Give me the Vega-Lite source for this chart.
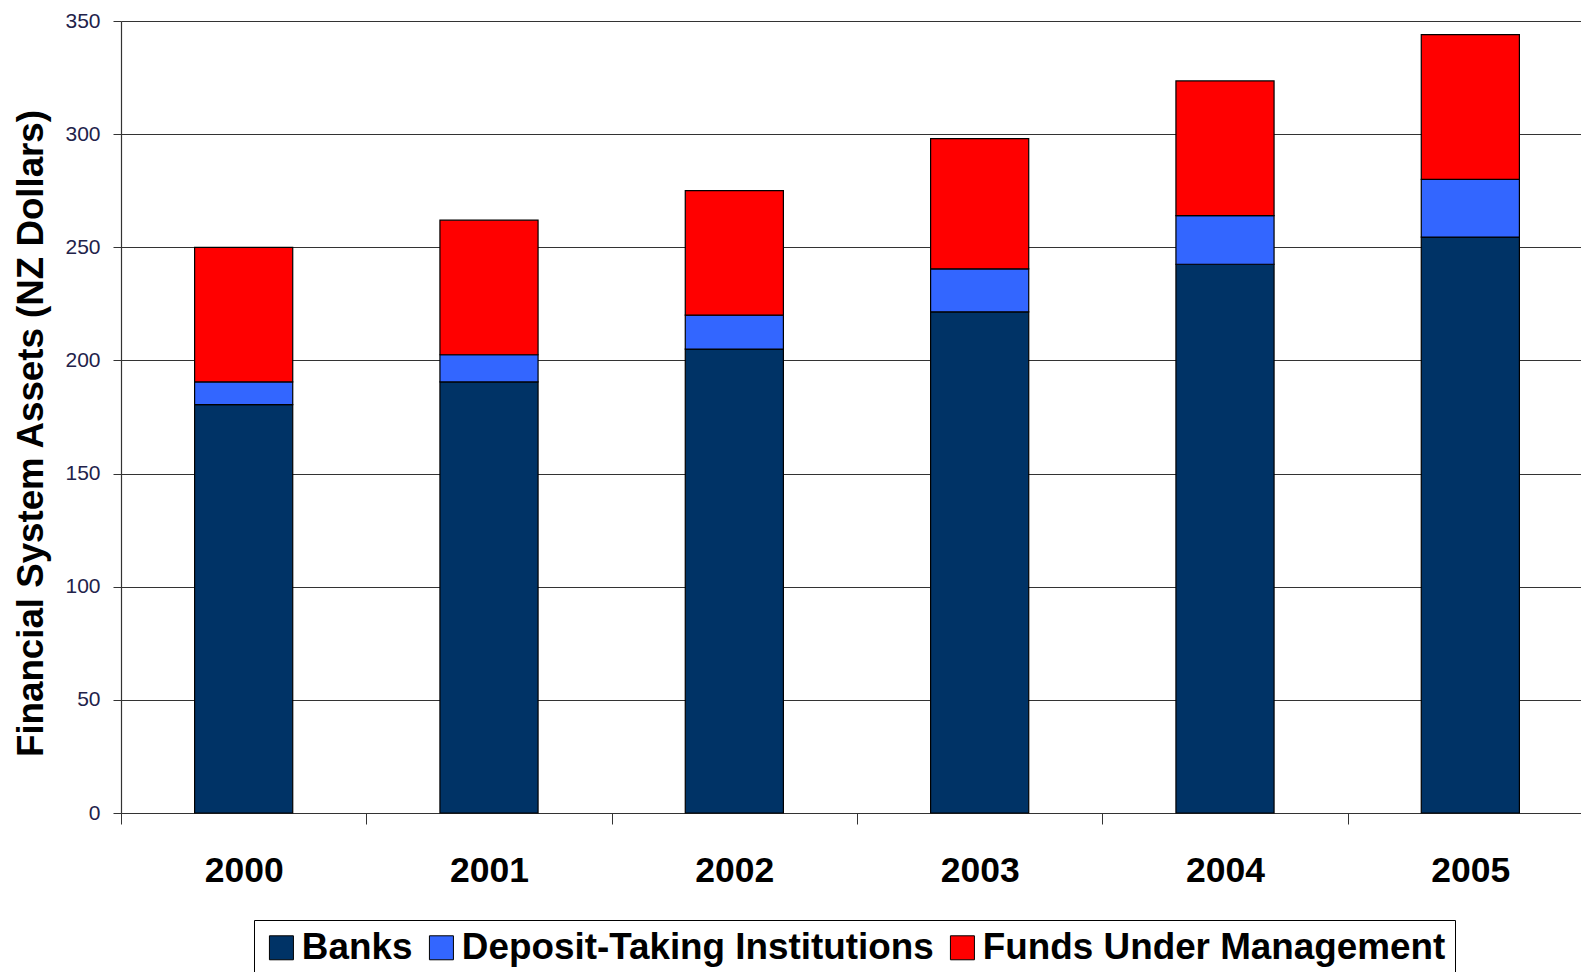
{
  "$schema": "https://vega.github.io/schema/vega-lite/v6.json",
  "width": 1472,
  "height": 792,
  "autosize": {"type": "none"},
  "padding": {"left": 121, "top": 21, "right": -12, "bottom": 159},
  "background": "white",
  "config": {"view": {"stroke": null}, "font": "Liberation Sans"},
  "data": {
    "values": [
      {"year": "2000", "category": "Banks", "value": 180.5},
      {"year": "2000", "category": "Deposit-Taking Institutions", "value": 10},
      {"year": "2000", "category": "Funds Under Management", "value": 59.5},
      {"year": "2001", "category": "Banks", "value": 190.5},
      {"year": "2001", "category": "Deposit-Taking Institutions", "value": 12},
      {"year": "2001", "category": "Funds Under Management", "value": 59.5},
      {"year": "2002", "category": "Banks", "value": 205},
      {"year": "2002", "category": "Deposit-Taking Institutions", "value": 15},
      {"year": "2002", "category": "Funds Under Management", "value": 55},
      {"year": "2003", "category": "Banks", "value": 221.5},
      {"year": "2003", "category": "Deposit-Taking Institutions", "value": 19},
      {"year": "2003", "category": "Funds Under Management", "value": 57.5},
      {"year": "2004", "category": "Banks", "value": 242.5},
      {"year": "2004", "category": "Deposit-Taking Institutions", "value": 21.5},
      {"year": "2004", "category": "Funds Under Management", "value": 59.5},
      {"year": "2005", "category": "Banks", "value": 254.5},
      {"year": "2005", "category": "Deposit-Taking Institutions", "value": 25.5},
      {"year": "2005", "category": "Funds Under Management", "value": 64}
    ]
  },
  "mark": {"type": "bar", "width": {"band": 0.4}, "stroke": "#000000", "strokeWidth": 1.2},
  "encoding": {
    "x": {
      "field": "year",
      "type": "ordinal",
      "scale": {"paddingInner": 0, "paddingOuter": 0},
      "axis": {
        "title": null,
        "labelAngle": 0,
        "labelFont": "Liberation Sans",
        "labelFontSize": 35.5,
        "labelFontWeight": "bold",
        "labelColor": "#000000",
        "labelPadding": 29,
        "tickBand": "extent",
        "tickSize": 11,
        "tickColor": "#333333",
        "domainColor": "#333333",
        "domainWidth": 1.2,
        "grid": false
      }
    },
    "y": {
      "field": "value",
      "type": "quantitative",
      "stack": "zero",
      "scale": {"domain": [0, 350], "nice": false},
      "axis": {
        "values": [0, 50, 100, 150, 200, 250, 300, 350],
        "title": "Financial System Assets (NZ Dollars)",
        "titleFont": "Liberation Sans",
        "titleFontSize": 36.7,
        "titleFontWeight": "bold",
        "titleColor": "#000000",
        "titleAngle": 270,
        "titleAlign": "center",
        "titleBaseline": "middle",
        "titleX": -90,
        "titleY": 412,
        "labelFont": "Liberation Sans",
        "labelFontSize": 21,
        "labelColor": "#22224a",
        "labelPadding": 13,
        "tickSize": 8,
        "tickColor": "#333333",
        "domainColor": "#333333",
        "domainWidth": 1.2,
        "grid": true,
        "gridColor": "#333333",
        "gridWidth": 1.2
      }
    },
    "color": {
      "field": "category",
      "type": "nominal",
      "scale": {
        "domain": ["Banks", "Deposit-Taking Institutions", "Funds Under Management"],
        "range": ["#003366", "#3366FF", "#FF0000"]
      },
      "legend": {
        "title": null,
        "orient": "none",
        "legendX": 133,
        "legendY": 899,
        "direction": "horizontal",
        "columns": 3,
        "strokeColor": "#000000",
        "fillColor": "#ffffff",
        "padding": 9,
        "symbolType": "square",
        "symbolSize": 576,
        "symbolStrokeColor": "#000000",
        "symbolStrokeWidth": 1,
        "symbolOpacity": 1,
        "labelFont": "Liberation Sans",
        "labelFontSize": 36.85,
        "labelFontWeight": "bold",
        "labelColor": "#000000",
        "labelOffset": 2,
        "labelLimit": 0,
        "columnPadding": 10
      }
    },
    "order": {"field": "category", "type": "nominal", "sort": "ascending"}
  }
}
